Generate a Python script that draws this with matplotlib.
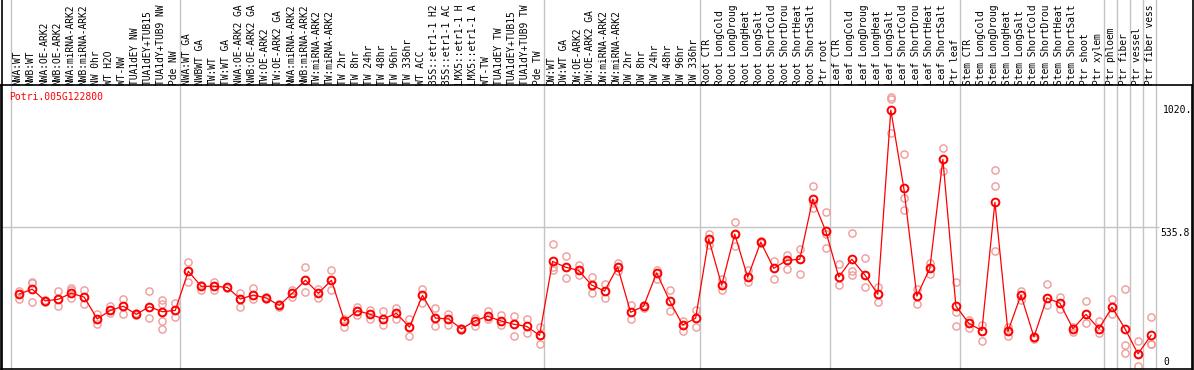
import matplotlib
matplotlib.use("Agg")
import matplotlib.pyplot as plt
from matplotlib.lines import Line2D
from matplotlib.transforms import offset_copy

gene = "Potri.005G122800"

# labels as they show in the chart (long ones are cut at 14 characters)
labels = [
    # NW
    "NWA:WT", "NWB:WT", "NWA:OE-ARK2", "NWB:OE-ARK2", "NWA:miRNA-ARK2",
    "NWB:miRNA-ARK2", "NW 0hr", "WT H2O", "WT-NW", "TUA1dEY NW",
    "TUA1dEY+TUB15", "TUA1dY+TUB9 NW", "Pde NW",
    # TW
    "NWA:WT GA", "NWBWT GA", "TW:WT", "TW:WT GA", "NWA:OE-ARK2 GA",
    "NWB:OE-ARK2 GA", "TW:OE-ARK2", "TW:OE-ARK2 GA", "NWA:miRNA-ARK2",
    "NWB:miRNA-ARK2", "TW:miRNA-ARK2", "TW:miRNA-ARK2", "TW 2hr", "TW 8hr",
    "TW 24hr", "TW 48hr", "TW 96hr", "TW 336hr", "WT ACC", "35S::etr1-1 H2",
    "35S::etr1-1 AC", "LMX5::etr1-1 H", "LMX5::etr1-1 A", "WT-TW",
    "TUA1dEY TW", "TUA1dEY+TUB15", "TUA1dY+TUB9 TW", "Pde TW",
    # OW
    "OW:WT", "OW:WT GA", "OW:OE-ARK2", "OW:OE-ARK2 GA", "OW:miRNA-ARK2",
    "OW:miRNA-ARK2", "OW 2hr", "OW 8hr", "OW 24hr", "OW 48hr", "OW 96hr",
    "OW 336hr",
    # root
    "Root CTR", "Root LongCold", "Root LongDroug", "Root LongHeat",
    "Root LongSalt", "Root ShortCold", "Root ShortDrou", "Root ShortHeat",
    "Root ShortSalt", "Ptr root",
    # leaf
    "Leaf CTR", "Leaf LongCold", "Leaf LongDroug", "Leaf LongHeat",
    "Leaf LongSalt", "Leaf ShortCold", "Leaf ShortDrou", "Leaf ShortHeat",
    "Leaf ShortSalt", "Ptr leaf",
    # stem / tissues
    "Stem CTR", "Stem LongCold", "Stem LongDroug", "Stem LongHeat",
    "Stem LongSalt", "Stem ShortCold", "Stem ShortDrou", "Stem ShortHeat",
    "Stem ShortSalt", "Ptr shoot", "Ptr xylem", "Ptr phloem", "Ptr fiber",
    "Ptr vessel", "Ptr fiber vess",
]

# group separators (sample index where a new group starts)
group_breaks = [0, 13, 41, 53, 63, 73, 84, 85, 86, 87, 88]

means = [
    283, 301, 257, 263, 286, 271, 189, 221, 237, 206, 235, 216, 221,
    369, 312, 312, 308, 264, 279, 268, 240, 286, 335, 286, 335, 182, 220,
    206, 189, 210, 158, 278, 192, 189, 151, 181, 199, 182, 169, 161, 127,
    406, 384, 372, 317, 294, 385, 214, 237, 363, 257, 166, 192,
    491, 316, 509, 346, 479, 380, 410, 414, 641, 520,
    347, 414, 355, 282, 977, 682, 275, 380, 791, 238,
    172, 145, 629, 142, 279, 121, 268, 248, 152, 206, 152, 233, 152, 57, 127,
]

replicates = [
    [295, 283, 265], [327, 323, 254], [260, 257, 254], [293, 263, 239],
    [305, 298, 267], [298, 271, 246], [206, 189, 168], [238, 221, 210],
    [264, 237, 206], [210, 206, 203], [294, 235, 191],
    [261, 245, 216, 181, 150], [249, 221, 195],
    [403, 369, 329], [318, 312, 299], [329, 312, 299], [311, 308, 305],
    [286, 264, 235], [305, 279, 264], [272, 268, 264], [246, 240, 234],
    [297, 286, 271], [384, 335, 289], [303, 286, 269], [372, 335, 297],
    [190, 182, 160], [233, 220, 204], [223, 206, 189], [218, 189, 166],
    [230, 210, 189], [189, 158, 125], [303, 278, 250], [229, 192, 162],
    [208, 189, 165], [156, 151, 146], [192, 181, 162], [219, 199, 189],
    [204, 182, 166], [199, 169, 125], [189, 161, 135], [158, 127, 95],
    [470, 384, 372], [426, 384, 342], [391, 372, 356], [346, 317, 287],
    [321, 294, 267], [400, 385, 371], [240, 214, 189], [243, 237, 231],
    [374, 363, 338], [298, 257, 219], [182, 166, 143], [221, 192, 158],
    [511, 491, 468], [341, 316, 298], [554, 509, 464], [374, 346, 329],
    [483, 479, 476], [408, 380, 341], [431, 410, 376], [452, 414, 358],
    [692, 625, 608], [594, 510, 455],
    [395, 347, 317], [512, 370, 355], [418, 355, 311], [311, 282, 254],
    [1028, 1018, 889], [811, 644, 600], [301, 275, 245], [401, 380, 358],
    [833, 791, 748], [327, 214, 163],
    [185, 172, 154], [166, 145, 106], [751, 689, 446], [160, 142, 125],
    [295, 279, 260], [121, 118, 112], [321, 268, 240], [273, 248, 225],
    [160, 152, 141], [257, 206, 172], [180, 152, 135], [264, 233, 206],
    [301, 89, 59], [104, 57, 11], [195, 93, 93],
]

ymax = 1071.6
ymid = 535.8

W, H = 1194, 370
fig = plt.figure(figsize=(W / 100, H / 100), dpi=100)
ax = fig.add_axes([1 / W, 1 / H, 1191 / W, 284 / H])

slot = 13.01  # px per sample
x_left = -(10.7 - 1) / slot
ax.set_xlim(x_left, x_left + 1191 / slot)
ax.set_ylim(0, ymax)
ax.set_xticks([])
ax.set_yticks([])
for s in ax.spines.values():
    s.set_linewidth(1.2)
    s.set_color("black")

font = dict(family="DejaVu Sans Mono", size=7)
lab_font = dict(family="DejaVu Sans Mono", size=6.9)
grey = "#c4c4c4"
ext = 1 + 85 / 284  # run separators up through the label band

for b in group_breaks:
    ax.axvline(b, ymin=0, ymax=ext, color=grey, lw=1, clip_on=False, zorder=1)
ax.hlines(ymid, x_left, 88.3, color=grey, lw=1, zorder=1)

# sample labels on top
for i, lab in enumerate(labels):
    ax.text(i + 0.55, 1.0, lab, rotation=90, ha="center", va="bottom",
            transform=ax.get_xaxis_transform(), fontdict=lab_font,
            clip_on=False)

# replicate circles
xs = [i + 0.65 for i in range(len(means))]
for x, reps in zip(xs, replicates):
    ax.plot([x] * len(reps), reps, "o", ms=5.2, mfc="none", mec="#f09a9a",
            mew=1.0, zorder=2, clip_on=False)

ax.plot(xs, means, "-", color="red", lw=0.9, zorder=3)
ax.plot(xs, means, "o", ms=5.6, mfc="none", mec="red", mew=1.4, zorder=4)

ax.text(8.3 / 1191, 1 - 12 / 284, gene, color="red", transform=ax.transAxes,
        va="center", ha="left", fontdict=font)

# value labels on the right
ax.text(88.57, 1020, "1020.", va="top", ha="left", fontdict=font,
        transform=offset_copy(ax.transData, fig, y=-6, units="dots"))
ax.text(88.34, ymid, "535.8", va="top", ha="left", fontdict=font,
        transform=offset_copy(ax.transData, fig, y=-1, units="dots"))
ax.text(88.6, 0, "0", va="bottom", ha="left", fontdict=font,
        transform=offset_copy(ax.transData, fig, y=2, units="dots"))

# outer frame lines run the full height
for xf in (1.5 / W, 1192.5 / W):
    fig.add_artist(Line2D([xf, xf], [0, 1], transform=fig.transFigure,
                          color="black", lw=1.2))

fig.savefig("out.png", dpi=100)
